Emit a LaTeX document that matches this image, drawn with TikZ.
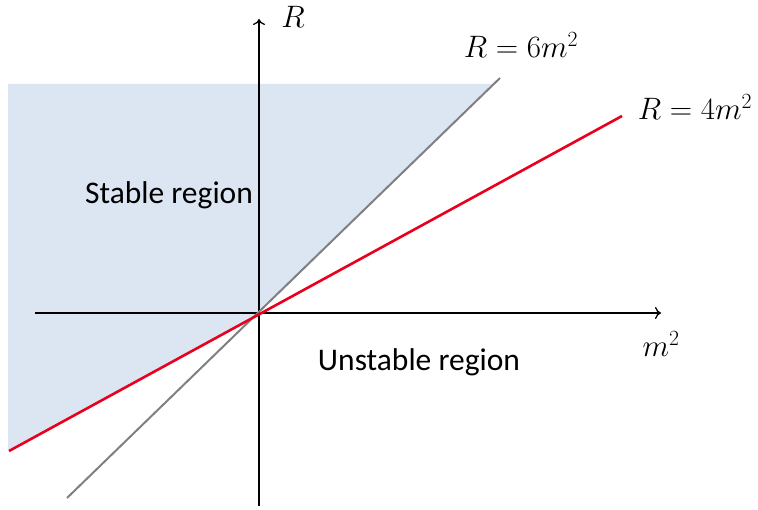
\RequirePackage{fix-cm}
\documentclass[tikz,border=0pt]{standalone}
\usepackage{fontspec}
\setmainfont{Carlito}
\usetikzlibrary{arrows.meta}
\definecolor{shadeblue}{RGB}{220,230,242}
\definecolor{lgray}{RGB}{128,128,128}
\definecolor{lred}{RGB}{232,0,30}
\tikzset{
  axis/.style={line width=1.3pt, -{To[length=6pt,width=12pt]}},
  lbl/.style={font=\fontsize{31.5}{36}\selectfont, inner sep=0pt},
  mlbl/.style={font=\fontsize{31}{36}\selectfont, inner sep=0pt}
}
\begin{document}
\begin{tikzpicture}[x=1pt,y=-1pt]
\useasboundingbox (0,0) rectangle (758,510);
\coordinate (O) at (259,313);
\coordinate (S1) at (8,84);
\coordinate (S2) at (494,84);
\coordinate (S3) at (8,450);
\fill[shadeblue] (S1) -- (S2) -- (O) -- (S3) -- cycle;
\coordinate (xl) at (35,313);
\coordinate (xr) at (661,313);
\coordinate (yb) at (259,506);
\coordinate (yt) at (259,19);
\draw[axis] (xl) -- (xr);
\draw[axis] (yb) -- (yt);
\coordinate (g1) at (67,498);
\coordinate (g2) at (500,78);
\draw[lgray, line width=2pt] (g1) -- (g2);
\coordinate (r1) at (9,451);
\coordinate (r2) at (622,116);
\draw[lred, line width=2.6pt] (r1) -- (r2);
\node[mlbl] (Rl) at (293,17) {$R$};
\node[mlbl] (R6) at (521,45) {$R=6m^2$};
\node[mlbl] (R4) at (695,107) {$R=4m^2$};
\node[mlbl] (m2) at (661,344) {$m^2$};
\node[lbl] (st) at (169,195) {Stable region};
\node[lbl] (un) at (419,362) {Unstable region};
\end{tikzpicture}
\end{document}
